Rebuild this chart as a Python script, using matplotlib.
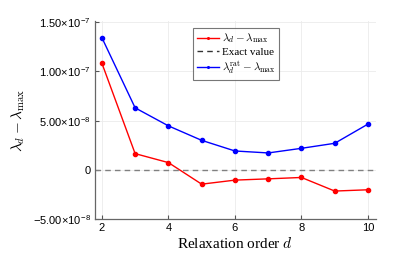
import matplotlib
matplotlib.use("Agg")
import matplotlib.pyplot as plt

plt.rcParams['mathtext.fontset'] = 'cm'
plt.rcParams['font.family'] = ['Liberation Sans', 'DejaVu Sans']

orders = [2, 3, 4, 5, 6, 7, 8, 9, 10]
gap_plain = [1.084e-7, 1.65e-8, 7.4e-9, -1.45e-8, -1.04e-8, -9.1e-9, -7.7e-9, -2.15e-8, -2.02e-8]
gap_rat = [1.343e-7, 6.3e-8, 4.47e-8, 3.0e-8, 1.92e-8, 1.72e-8, 2.19e-8, 2.7e-8, 4.65e-8]
exact = 0.0

xticks = [2, 4, 6, 8, 10]
yticks = [-5e-8, 0, 5e-8, 1e-7, 1.5e-7]
ytick_labels = [r"$\mathdefault{-}$5.00×10$^{\mathdefault{-8}}$", "0",
                r"5.00×10$^{\mathdefault{-8}}$",
                r"1.00×10$^{\mathdefault{-7}}$", r"1.50×10$^{\mathdefault{-7}}$"]

fig = plt.figure(figsize=(3.97, 2.64), dpi=100)
ax = fig.add_axes([0.239, 0.170, 0.708, 0.752])

ax.plot(orders, gap_plain, color='red', lw=1.0, marker='o', ms=3,
        label=r'$\lambda_d - \lambda_{\max}$')
ax.axhline(exact, color='gray', ls='--', lw=1.0, dashes=(4, 3), label='Exact value')
ax.plot(orders, gap_rat, color='blue', lw=1.0, marker='o', ms=3,
        label=r'$\lambda_d^{\mathrm{rat}} - \lambda_{\max}$')

ax.set_xlim(1.79, 10.24)
ax.set_ylim(-5.0e-8, 1.516e-7)
ax.set_xticks(xticks)
ax.set_yticks(yticks)
ax.set_yticklabels(ytick_labels)
ax.tick_params(labelsize=8, length=3, direction='in', color='#555555', pad=3)
ax.grid(True, color='#ebebeb', lw=0.6)

for s in ['top', 'right']:
    ax.spines[s].set_visible(False)
for s in ['left', 'bottom']:
    ax.spines[s].set_color('#666666')
    ax.spines[s].set_linewidth(0.9)

ax.set_xlabel(r'Relaxation order $d$', fontsize=11, labelpad=2)
ax.xaxis.label.set_fontfamily('Liberation Serif')
ax.set_ylabel(r'$\lambda_d - \lambda_{\max}$', fontsize=11)

leg = ax.legend(loc='upper left', bbox_to_anchor=(0.33, 0.99),
                prop={'family': 'Liberation Serif', 'size': 8},
                fancybox=False, edgecolor='#555555', handlelength=2.0,
                borderpad=0.3, labelspacing=0.2, handletextpad=0.3,
                markerscale=0.4)
leg.get_frame().set_linewidth(0.8)
leg.get_lines()[1].set_color('#333333')

fig.savefig('out.png', dpi=100)
